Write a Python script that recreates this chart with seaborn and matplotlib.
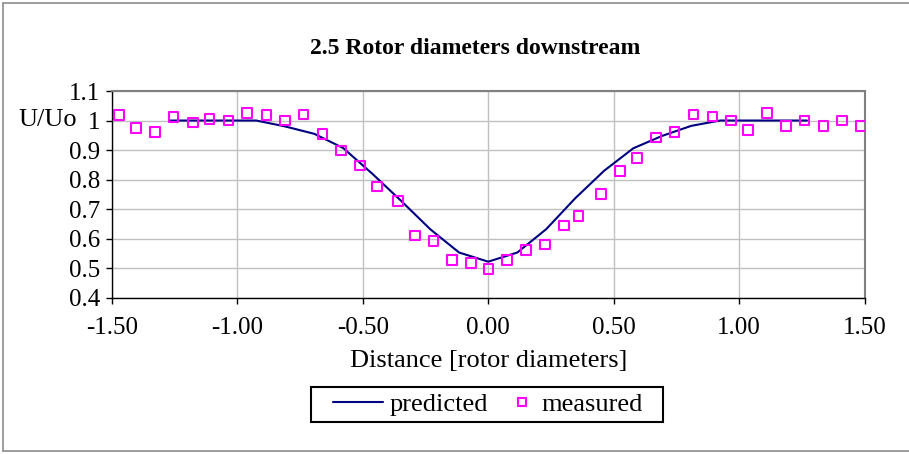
import numpy as np
import pandas as pd
import matplotlib
matplotlib.use("Agg")
import matplotlib.pyplot as plt
from matplotlib.lines import Line2D
from matplotlib.patches import Rectangle
import seaborn as sns

# ---- data ----
pred_x = [-1.270, -1.155, -1.039, -0.924, -0.809, -0.693, -0.578, -0.462, -0.347,
          -0.231, -0.116, 0.000, 0.116, 0.231, 0.347, 0.462, 0.578, 0.693, 0.809,
          0.924, 1.039, 1.155, 1.270]
pred_y = [1.000, 1.000, 1.000, 1.000, 0.980, 0.955, 0.907, 0.820, 0.728,
          0.632, 0.553, 0.522, 0.553, 0.632, 0.737, 0.830, 0.906, 0.948, 0.982,
          1.000, 1.000, 1.000, 1.000]

meas_x = [-1.470, -1.402, -1.328, -1.254, -1.177, -1.110, -1.035, -0.960, -0.884,
          -0.810, -0.736, -0.660, -0.586, -0.510, -0.442, -0.360, -0.292, -0.218,
          -0.143, -0.068, 0.001, 0.076, 0.150, 0.226, 0.301, 0.360, 0.450, 0.526,
          0.594, 0.668, 0.742, 0.818, 0.894, 0.968, 1.036, 1.110, 1.186, 1.260,
          1.336, 1.410, 1.486]
meas_y = [1.019, 0.974, 0.962, 1.013, 0.993, 1.006, 1.000, 1.025, 1.019,
          1.000, 1.020, 0.955, 0.898, 0.848, 0.777, 0.727, 0.611, 0.592,
          0.528, 0.517, 0.497, 0.528, 0.561, 0.580, 0.644, 0.676, 0.752, 0.830,
          0.873, 0.943, 0.962, 1.020, 1.014, 1.000, 0.968, 1.026, 0.982, 1.000,
          0.982, 1.000, 0.982]

x_ticks = [-1.5, -1.0, -0.5, 0.0, 0.5, 1.0, 1.5]
y_ticks = [0.4, 0.5, 0.6, 0.7, 0.8, 0.9, 1.0, 1.1]

title = "2.5 Rotor diameters downstream"
x_label = "Distance [rotor diameters]"
y_label = "U/Uo"
series_names = ["predicted", "measured"]

pred_df = pd.DataFrame({"x": pred_x, "y": pred_y})
meas_df = pd.DataFrame({"x": meas_x, "y": meas_y})

# ---- style ----
sns.set_theme(style="white")
plt.rcParams["font.family"] = ["Liberation Serif", "DejaVu Serif"]
plt.rcParams["text.color"] = "black"

W, H = 909, 454
fig = plt.figure(figsize=(W / 100, H / 100), dpi=100)
fig.patch.set_facecolor("white")

def fx(px):
    return px / W

def fy(py):
    return 1 - py / H

L, R, T, B = 111.7, 864.7, 91.0, 297.7
ax = fig.add_axes([fx(L), fy(B), fx(R) - fx(L), fy(T) - fy(B)])
ax.set_facecolor("white")

LINE_C = "#000080"
MARK_C = "#FF00FF"

sns.lineplot(data=pred_df, x="x", y="y", ax=ax, color=LINE_C, linewidth=1.5,
             sort=False, zorder=3)
sns.scatterplot(data=meas_df, x="x", y="y", ax=ax, marker="s", s=48,
                facecolor="none", edgecolor=MARK_C, linewidth=1.5, zorder=4)

ax.set_xlim(-1.5, 1.5)
ax.set_ylim(0.4, 1.1)
ax.set_xticks(x_ticks)
ax.set_yticks(y_ticks)
ax.set_xticklabels([f"{v:.2f}" for v in x_ticks])
ax.set_yticklabels([("1" if abs(v - 1) < 1e-9 else f"{v:.1f}") for v in y_ticks])
ax.set_xlabel("")
ax.set_ylabel("")

ax.grid(True, color="#c0c0c0", linewidth=1.0, zorder=0)
ax.set_axisbelow(True)
for s in ["top", "right"]:
    ax.spines[s].set_color("#808080")
    ax.spines[s].set_linewidth(1.5)
for s in ["left", "bottom"]:
    ax.spines[s].set_color("black")
    ax.spines[s].set_linewidth(1.0)

ax.tick_params(axis="both", direction="out", length=4, width=1, color="black",
               labelsize=18, labelcolor="black", left=True, bottom=True)
ax.tick_params(axis="x", pad=10)
ax.tick_params(axis="y", pad=4)

# texts
fig.text(fx(475.5), fy(48), title, ha="center", va="center", fontsize=17,
         fontweight="bold", color="black")
fig.text(fx(18), fy(119.5), y_label, ha="left", va="center", fontsize=19,
         color="black")
fig.text(fx(488.5), fy(361), x_label, ha="center", va="center", fontsize=19,
         color="black")

# legend (two entries placed individually inside one frame)
h_pred = Line2D([0], [0], color=LINE_C, linewidth=1.5)
h_meas = Line2D([0], [0], linestyle="none", marker="s", markersize=6,
                markerfacecolor="none", markeredgecolor=MARK_C,
                markeredgewidth=1.5)
leg1 = fig.legend([h_pred], [series_names[0]], loc="center left",
                  bbox_to_anchor=(fx(332.7), fy(404.35)), frameon=False,
                  fontsize=19, handlelength=1.9, handletextpad=0.27,
                  borderpad=0, borderaxespad=0, labelcolor="black")
leg2 = fig.legend([h_meas], [series_names[1]], loc="center left",
                  bbox_to_anchor=(fx(510.1), fy(404.35)), frameon=False,
                  fontsize=19, handlelength=0.9, handletextpad=0.27,
                  borderpad=0, borderaxespad=0, labelcolor="black")
fig.add_artist(Rectangle((fx(310.7), fy(421.7)), fx(663) - fx(310.7),
                         fy(387) - fy(421.7), transform=fig.transFigure,
                         fill=False, edgecolor="black", linewidth=1.5))

# outer chart border (top, left, bottom; right cut off)
bc = "#8c8c8c"
fig.add_artist(Line2D([fx(3), 1.0], [fy(2.5), fy(2.5)], transform=fig.transFigure,
                      color=bc, linewidth=1.2))
fig.add_artist(Line2D([fx(3), fx(3)], [fy(2.5), fy(451)], transform=fig.transFigure,
                      color=bc, linewidth=1.2))
fig.add_artist(Line2D([fx(3), 1.0], [fy(451), fy(451)], transform=fig.transFigure,
                      color=bc, linewidth=1.2))

fig.savefig("out.png", dpi=100, facecolor="white")
